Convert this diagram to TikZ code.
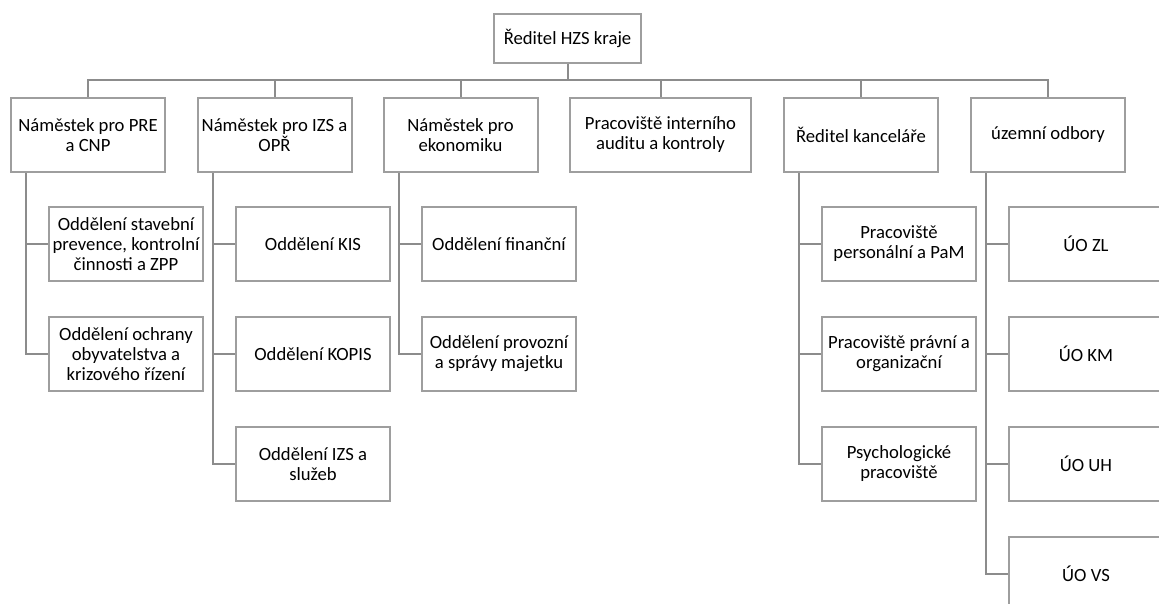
\documentclass[tikz,border=0pt]{standalone}
\usepackage{fontspec}
\setmainfont{Carlito}
\usepackage{tikz}
\usetikzlibrary{positioning}
\definecolor{linegray}{HTML}{8C8C8C}
\definecolor{boxgray}{HTML}{9E9E9E}

\begin{document}
\begin{tikzpicture}[x=0.75pt,y=-0.75pt,
    box/.style={rectangle,draw=boxgray,line width=1.5pt,fill=white,text=black,align=center,
        minimum width=115.5pt,minimum height=55.5pt,inner sep=1pt,font={\fontsize{14}{15}\selectfont}},
    conn/.style={draw=linegray,line width=1.5pt}] % organizační schéma HZS
    \clip (0,0) rectangle (1159,603);
    
    \node[box,minimum width=110pt,minimum height=36.75pt] (top) at (567.5,38.5) {Ředitel HZS kraje};
    
    \foreach \i/\x/\name in {1/88/{Náměstek pro PRE\\a CNP},2/274.5/{Náměstek pro IZS a\\OPŘ},
        3/460.5/{Náměstek pro\\ekonomiku},5/861/{Ředitel kanceláře},6/1048/{územní odbory}}{
        \node[box] (n\i) at (\x,135) {\name};
    }
    \node[box,minimum width=135.75pt] (n4) at (660.5,135) {Pracoviště interního\\auditu a kontroly};
    
    \foreach \i in {1,...,6}{
        \draw[conn] (top.south) -- ++(0,16) -| (n\i.north);}
    
    % oddělení pod náměstky
    \foreach \j/\name in {1/{Oddělení stavební\\prevence, kontrolní\\činnosti a ZPP},
        2/{Oddělení ochrany\\obyvatelstva a\\krizového řízení}}{
        \node[box] (c1\j) at (126,244+110*\j-110) {\name};
        \draw[conn] ([xshift=12pt]n1.south west) |- (c1\j.west);
    }
    \foreach \j/\name in {1/{Oddělení KIS},2/{Oddělení KOPIS},3/{Oddělení IZS a\\služeb}}{
        \node[box] (c2\j) at (313,244+110*\j-110) {\name};
        \draw[conn] ([xshift=12pt]n2.south west) |- (c2\j.west);
    }
    \foreach \j/\name in {1/{Oddělení finanční},2/{Oddělení provozní\\a správy majetku}}{
        \node[box] (c3\j) at (499,244+110*\j-110) {\name};
        \draw[conn] ([xshift=12pt]n3.south west) |- (c3\j.west);
    }
    \foreach \j/\name in {1/{Pracoviště\\personální a PaM},2/{Pracoviště právní a\\organizační},
        3/{Psychologické\\pracoviště}}{
        \node[box] (c5\j) at (899,244+110*\j-110) {\name};
        \draw[conn] ([xshift=12pt]n5.south west) |- (c5\j.west);
    }
    \foreach \j/\name in {1/{ÚO ZL},2/{ÚO KM},3/{ÚO UH},4/{ÚO VS}}{
        \node[box] (c6\j) at (1086,244+110*\j-110) {\name};
        \draw[conn] ([xshift=12pt]n6.south west) |- (c6\j.west);
    }
\end{tikzpicture}
\end{document}
